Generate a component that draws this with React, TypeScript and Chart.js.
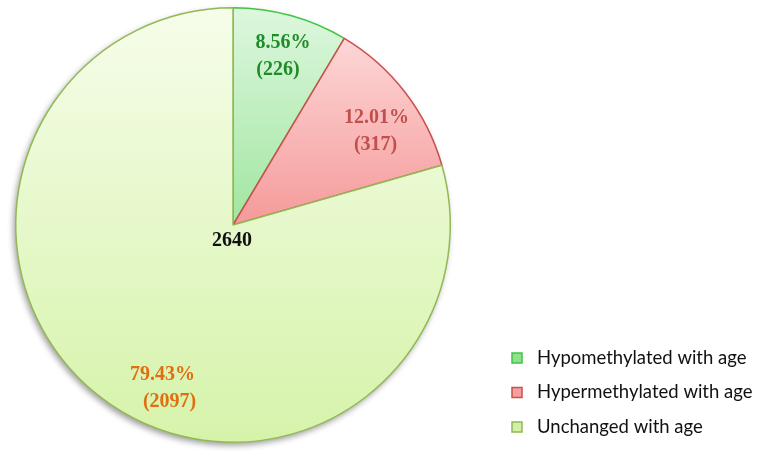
import React, { useEffect, useRef } from "react";
import { Chart, registerables } from "chart.js";

Chart.register(...registerables);

const categories = ["Hypomethylated with age", "Hypermethylated with age", "Unchanged with age"];
const counts = [226, 317, 2097];
const totalLabel = "2640";

const gradTop = ["#def7de", "#ffe0e0", "#f6fdea"];
const gradBottom = ["#a0e6a0", "#f59a9a", "#d6f3aa"];
const legendFill = ["#8fe08f", "#f2a0a0", "#d3efa6"];
const borderColors = ["#3fc63f", "#c9504e", "#93b856"];
const textColors = ["#1f8c2a", "#c0504d", "#e0700f"];
const labelAngleFrac = [0.535, 0.6, 0.452];
const labelRadiusFrac = [0.81, 0.79, 0.82];
const secondLineShift = [-5, -1, 7];

function makeGrad(ctx: CanvasRenderingContext2D, i: number, top: number, bottom: number) {
  const g = ctx.createLinearGradient(0, top, 0, bottom);
  g.addColorStop(0, gradTop[i]);
  g.addColorStop(1, gradBottom[i]);
  return g;
}

export default function App() {
  const ref = useRef<HTMLCanvasElement | null>(null);
  useEffect(() => {
    const canvas = ref.current;
    if (!canvas) return;
    const total = counts.reduce((a, b) => a + b, 0);

    const shadowPlugin = {
      id: "pieShadow",
      beforeDatasetsDraw(chart: any) {
        const arc = chart.getDatasetMeta(0).data[0];
        if (!arc) return;
        const { ctx } = chart;
        ctx.save();
        ctx.shadowColor = "rgba(0,0,0,0.4)";
        ctx.shadowBlur = 6;
        ctx.shadowOffsetX = -2;
        ctx.shadowOffsetY = 3;
        ctx.fillStyle = "#ffffff";
        ctx.beginPath();
        ctx.arc(arc.x, arc.y, arc.outerRadius, 0, Math.PI * 2);
        ctx.fill();
        ctx.restore();
      },
    };

    const labelPlugin = {
      id: "sliceLabels",
      afterDatasetsDraw(chart: any) {
        const { ctx } = chart;
        const meta = chart.getDatasetMeta(0);
        ctx.save();
        ctx.font = "bold 20px 'Liberation Serif', 'Times New Roman', serif";
        ctx.textAlign = "center";
        ctx.textBaseline = "middle";
        meta.data.forEach((arc: any, i: number) => {
          const a = arc.startAngle + labelAngleFrac[i] * (arc.endAngle - arc.startAngle);
          const r = arc.outerRadius * labelRadiusFrac[i];
          const x = arc.x + Math.cos(a) * r;
          const y = arc.y + Math.sin(a) * r;
          const pct = ((counts[i] / total) * 100).toFixed(2) + "%";
          ctx.fillStyle = textColors[i];
          ctx.fillText(pct, x, y - 13.5);
          ctx.fillText("(" + counts[i] + ")", x + secondLineShift[i], y + 13.5);
        });
        const a0 = meta.data[0];
        ctx.fillStyle = "#111111";
        ctx.fillText(totalLabel, a0.x - 1, a0.y + 16);
        ctx.restore();
      },
    };

    const legendPlugin = {
      id: "customLegend",
      afterDraw(chart: any) {
        const { ctx } = chart;
        const boxX = 512;
        const textX = 537;
        const rows = [358, 392.5, 427];
        ctx.save();
        ctx.font = "18.5px Lato, 'Liberation Sans', sans-serif";
        ctx.textBaseline = "middle";
        ctx.textAlign = "left";
        categories.forEach((c, i) => {
          const y = rows[i];
          ctx.fillStyle = legendFill[i];
          ctx.fillRect(boxX, y - 5, 10, 10);
          ctx.strokeStyle = borderColors[i];
          ctx.lineWidth = 1.5;
          ctx.strokeRect(boxX, y - 5, 10, 10);
          ctx.fillStyle = "#111111";
          ctx.fillText(c, textX, y);
        });
        ctx.restore();
      },
    };

    const chart = new Chart(canvas, {
      type: "pie",
      data: {
        labels: categories,
        datasets: [
          {
            data: counts,
            backgroundColor: (context: any) => {
              const i = context.dataIndex;
              const ca = context.chart.chartArea;
              if (!ca) return gradTop[i];
              const mid = (ca.top + ca.bottom) / 2;
              if (i === 2) return makeGrad(context.chart.ctx, i, ca.top, ca.bottom);
              return makeGrad(context.chart.ctx, i, ca.top, mid);
            },
            borderColor: borderColors,
            borderWidth: 1.5,
          },
        ],
      },
      options: {
        responsive: false,
        animation: false,
        layout: { padding: { left: 15, right: 308, top: 7, bottom: 10 } },
        plugins: {
          legend: { display: false },
          tooltip: { enabled: false },
        },
      },
      plugins: [shadowPlugin, labelPlugin, legendPlugin],
    });
    return () => chart.destroy();
  }, []);

  return (
    <div style={{ position: "fixed", left: 0, top: 0, width: 759, height: 453, background: "#ffffff" }}>
      <canvas ref={ref} width={759} height={453} />
    </div>
  );
}
